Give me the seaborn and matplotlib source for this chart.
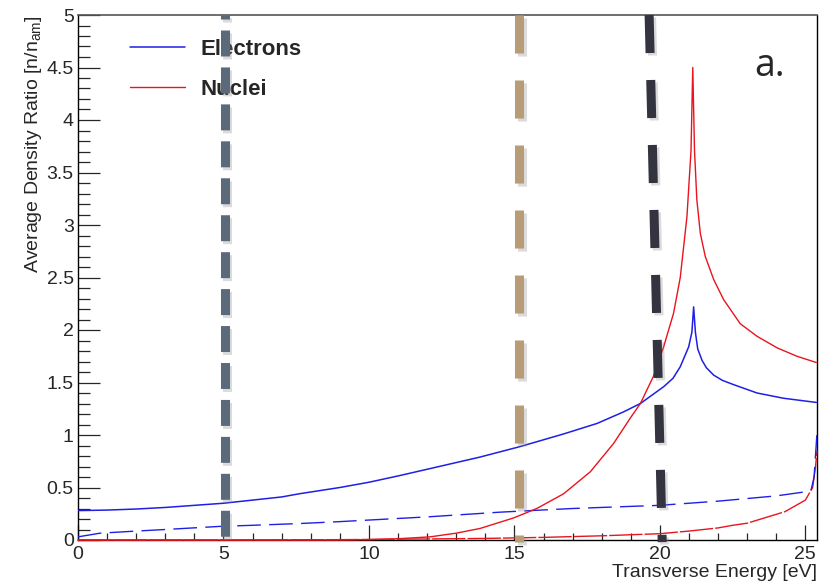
import matplotlib
matplotlib.use("Agg")
import matplotlib.pyplot as plt
import matplotlib.patheffects as pe
from matplotlib.ticker import MultipleLocator, FuncFormatter
import seaborn as sns
import pandas as pd

# electrons, solid
elec_x = [0, 1, 2, 3, 4, 5, 6, 7, 7.6, 9, 10, 11, 12.1, 13.82, 15.2, 16.69, 17.84,
          18.75, 19.33, 20.13, 20.45, 20.7, 20.99, 21.1, 21.16, 21.22, 21.3, 21.45,
          21.6, 21.85, 22.15, 22.53, 23.34, 24.25, 25.38]
elec_y = [0.28, 0.285, 0.295, 0.31, 0.33, 0.35, 0.38, 0.41, 0.44, 0.50, 0.55, 0.61,
          0.68, 0.79, 0.89, 1.01, 1.11, 1.22, 1.30, 1.46, 1.54, 1.65, 1.84, 1.98,
          2.22, 1.98, 1.82, 1.71, 1.64, 1.57, 1.52, 1.48, 1.40, 1.35, 1.31]

# nuclei, solid
nuc_x = [0, 9, 10, 11, 12.1, 13.0, 13.82, 14.97, 15.77, 16.69, 17.61, 18.41, 18.98,
         19.33, 19.78, 20.13, 20.47, 20.7, 20.93, 21.07, 21.13, 21.19, 21.27, 21.39,
         21.56, 21.85, 22.19, 22.76, 23.34, 24.03, 24.71, 25.38]
nuc_y = [0.0, 0.0, 0.004, 0.012, 0.03, 0.065, 0.11, 0.21, 0.30, 0.44, 0.65, 0.92,
         1.16, 1.30, 1.56, 1.84, 2.16, 2.50, 3.08, 3.71, 4.5, 3.71, 3.24, 2.92, 2.70,
         2.48, 2.29, 2.06, 1.94, 1.83, 1.75, 1.69]

# electrons, dashed
elec2_x = [0, 0.76, 2, 3, 4.9, 6, 7.63, 9, 10, 12, 14.5, 15.27, 17, 19.98, 22, 24,
           25.03, 25.2, 25.3, 25.4]
elec2_y = [0.03, 0.065, 0.085, 0.10, 0.13, 0.14, 0.157, 0.175, 0.19, 0.22, 0.265,
           0.276, 0.30, 0.33, 0.37, 0.42, 0.46, 0.48, 0.60, 1.02]

# nuclei, dashed
nuc2_x = [0, 5.5, 8, 10, 12, 14, 16, 18, 20, 21, 22, 22.5, 23, 24.3, 25.0, 25.25,
          25.35, 25.4]
nuc2_y = [0.0, 0.0, 0.002, 0.005, 0.01, 0.015, 0.025, 0.04, 0.06, 0.085, 0.115,
          0.14, 0.16, 0.27, 0.38, 0.50, 0.70, 0.85]

# thick marker lines: x at top, x at bottom
marker_top = [5.04, 15.16, 19.63]
marker_bot = [5.04, 15.16, 20.08]
marker_colors = ["#5b6a7a", "#b89c78", "#33343f"]

sns.set_style("ticks")
plt.rcParams["font.family"] = ["Liberation Sans", "DejaVu Sans"]
plt.rcParams["mathtext.fontset"] = "custom"
plt.rcParams["mathtext.rm"] = "Liberation Sans"
plt.rcParams["mathtext.it"] = "Liberation Sans"
plt.rcParams["lines.scale_dashes"] = False

fig = plt.figure(figsize=(8.35, 5.85), dpi=100)
ax = fig.add_axes([78 / 835, 45 / 585, 739 / 835, 525 / 585])

blue = "#1f1fe6"
red = "#e8141e"

df_e = pd.DataFrame({"E": elec_x, "ratio": elec_y})
df_n = pd.DataFrame({"E": nuc_x, "ratio": nuc_y})
df_e2 = pd.DataFrame({"E": elec2_x, "ratio": elec2_y})
df_n2 = pd.DataFrame({"E": nuc2_x, "ratio": nuc2_y})

sns.lineplot(data=df_n2, x="E", y="ratio", ax=ax, color=red, lw=1.0,
             linestyle=(0, (24, 1.5)), estimator=None, sort=False, zorder=3,
             clip_on=False)
sns.lineplot(data=df_e2, x="E", y="ratio", ax=ax, color=blue, lw=1.0,
             linestyle=(0, (17, 6)), estimator=None, sort=False, zorder=3)
sns.lineplot(data=df_e, x="E", y="ratio", ax=ax, color=blue, lw=1.1,
             estimator=None, sort=False, zorder=4, label="Electrons")
sns.lineplot(data=df_n, x="E", y="ratio", ax=ax, color=red, lw=1.0,
             estimator=None, sort=False, zorder=4, label="Nuclei", clip_on=False)

leg = ax.legend(loc="upper left", bbox_to_anchor=(0.07, 0.955), frameon=False,
                prop={"weight": "bold", "size": 16}, handlelength=2.5,
                handletextpad=0.7, labelspacing=0.85, borderpad=0, borderaxespad=0)
leg.set_zorder(5)

dash_styles = [(15.8, (18.7, 7.9)), (0, (27.4, 19.4)), (0, (27.4, 19.4))]
for xt, xb, c, ds in zip(marker_top, marker_bot, marker_colors, dash_styles):
    ax.plot([xt, xb], [5, -0.02], color=c, lw=6.5, linestyle=ds,
            solid_capstyle="butt", dash_capstyle="butt", clip_on=False, zorder=6,
            path_effects=[pe.SimpleLineShadow(offset=(1.8, -1.8), shadow_color="#888888", alpha=0.3),
                          pe.Normal()])

ax.text(23.25, 4.42, "a.", fontsize=27, family="Open Sans", ha="left", va="baseline")

ax.set_xlim(0, 25.4)
ax.set_ylim(0, 5)
ax.xaxis.set_major_locator(MultipleLocator(5))
ax.xaxis.set_minor_locator(MultipleLocator(1))
ax.yaxis.set_major_locator(MultipleLocator(0.5))
ax.yaxis.set_minor_locator(MultipleLocator(0.1))
fmt = FuncFormatter(lambda v, p: "%g" % v)
ax.xaxis.set_major_formatter(fmt)
ax.yaxis.set_major_formatter(fmt)
ax.tick_params(axis="x", which="major", direction="in", length=10.8, width=0.9, labelsize=14, pad=4)
ax.tick_params(axis="x", which="minor", direction="in", length=5, width=0.9)
ax.tick_params(axis="y", which="major", direction="in", length=15.6, width=0.9, labelsize=14, pad=3)
ax.tick_params(axis="y", which="minor", direction="in", length=8.4, width=0.9)

ax.set_xlabel("Transverse Energy [eV]", fontsize=14, loc="right", labelpad=1)
ax.set_ylabel(r"Average Density Ratio [n/n$_{\rm am}$]", fontsize=14, loc="top", labelpad=2)

for side in ["left", "bottom", "right"]:
    ax.spines[side].set_color("black")
    ax.spines[side].set_linewidth(1.0)
ax.spines["top"].set_color("#555555")
ax.spines["top"].set_linewidth(1.2)

fig.savefig("out.png", dpi=100)
